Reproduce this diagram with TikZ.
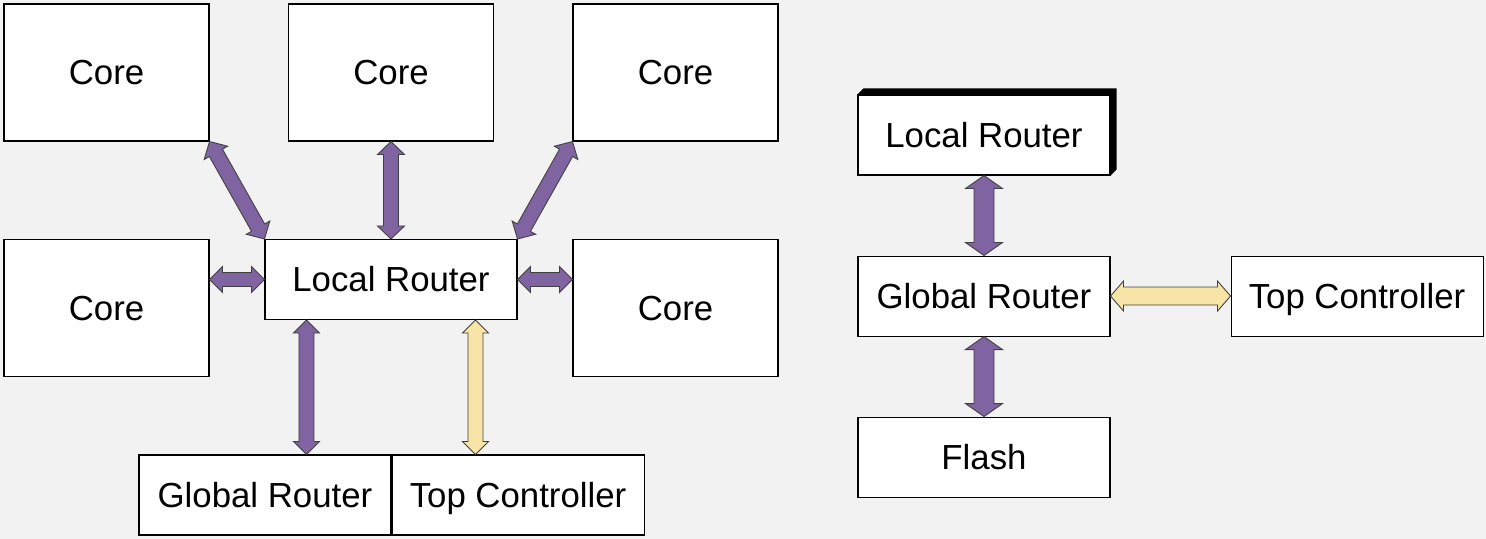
\documentclass[tikz,border=0pt]{standalone}
\usepackage{fontspec}
\setmainfont{Liberation Sans}
\usetikzlibrary{calc,positioning}

\definecolor{bgGray}{HTML}{F2F2F2}
\definecolor{linkPurple}{HTML}{8064A2}
\definecolor{linkYellow}{HTML}{F9E4A7}

\tikzset{
  blk/.style={draw=black,fill=white,line width=0.6pt,inner sep=0pt,
    text height=18.2pt,text depth=4pt,font=\fontsize{19.8}{24}\selectfont},
  corebox/.style={blk,minimum width=4.1cm,minimum height=2.74cm},
  rtbox/.style={blk,minimum width=5.04cm,minimum height=1.6cm},
  arrowline/.style={draw=black!75,line width=0.5pt,line join=miter},
}

% block arrow with two heads: colour, from, to, shaft half width, head half width
\newcommand{\fatarrow}[5]{%
  \draw[arrowline,fill=#1] (#2)
    -- ($(#2)!0.26cm!(#3)!#5!90:(#3)$) -- ($(#2)!0.26cm!(#3)!#4!90:(#3)$)
    -- ($(#3)!0.26cm!(#2)!#4!-90:(#2)$) -- ($(#3)!0.26cm!(#2)!#5!-90:(#2)$)
    -- (#3)
    -- ($(#3)!0.26cm!(#2)!#5!90:(#2)$) -- ($(#3)!0.26cm!(#2)!#4!90:(#2)$)
    -- ($(#2)!0.26cm!(#3)!#4!-90:(#3)$) -- ($(#2)!0.26cm!(#3)!#5!-90:(#3)$)
    -- cycle;}

\begin{document}
\begin{tikzpicture}
\fill[bgGray] (0,0) rectangle (29.72,-10.78);
\useasboundingbox (0,0) rectangle (29.72,-10.78);

% left: cores round the local router
\node[corebox] (coreTL) at (2.13,-1.45) {Core};
\node[corebox] (coreTM) at (7.82,-1.45) {Core};
\node[corebox] (coreTR) at (13.51,-1.45) {Core};
\node[corebox] (coreML) at (2.13,-6.16) {Core};
\node[corebox] (coreMR) at (13.51,-6.16) {Core};
\node[rtbox] (lr) at (7.82,-5.59) {Local Router};
\node[rtbox] (gr) at (5.30,-9.9) {Global Router};
\node[rtbox,right=0pt of gr] (tc) {Top Controller};

\coordinate (mlE) at (lr.west -| coreML.east);
\coordinate (mrW) at (lr.east -| coreMR.west);
\coordinate (lrA) at ([xshift=0.84cm]lr.south west);
\coordinate (lrB) at ([xshift=4.22cm]lr.south west);
\coordinate (grA) at (lrA |- gr.north);
\coordinate (tcB) at (lrB |- tc.north);

\fatarrow{linkPurple}{coreTL.south east}{lr.north west}{0.15cm}{0.27cm}
\fatarrow{linkPurple}{coreTM.south}{lr.north}{0.15cm}{0.27cm}
\fatarrow{linkPurple}{coreTR.south west}{lr.north east}{0.15cm}{0.27cm}
\fatarrow{linkPurple}{mlE}{lr.west}{0.14cm}{0.26cm}
\fatarrow{linkPurple}{lr.east}{mrW}{0.14cm}{0.26cm}
\fatarrow{linkPurple}{lrA}{grA}{0.15cm}{0.26cm}
\fatarrow{linkYellow}{lrB}{tcB}{0.15cm}{0.26cm}

% right: global router
\node[rtbox] (lr2) at (19.68,-2.7) {Local Router};
\fill[black] (lr2.north west) -- ++(0.12,0.12) -| ([xshift=0.12cm,yshift=0.12cm]lr2.south east) -- (lr2.south east) -- cycle;
\node[rtbox] at (lr2) {Local Router};
\node[rtbox,below=1.6cm of lr2] (gr2) {Global Router};
\node[rtbox,below=1.6cm of gr2] (flash) {Flash};
\node[rtbox,right=2.4cm of gr2] (tc2) {Top Controller};

\fatarrow{linkPurple}{lr2.south}{gr2.north}{0.2cm}{0.37cm}
\fatarrow{linkPurple}{gr2.south}{flash.north}{0.2cm}{0.37cm}
\fatarrow{linkYellow}{gr2.east}{tc2.west}{0.18cm}{0.3cm}
\end{tikzpicture}
\end{document}
